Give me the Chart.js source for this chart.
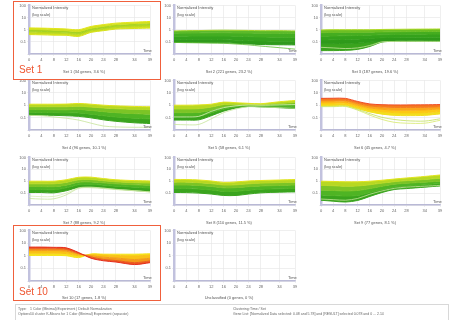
<!DOCTYPE html>
<html>
<head>
<meta charset="utf-8">
<script src="https://cdn.jsdelivr.net/npm/chart.js@4"></script>
<style>
  body { margin: 0; width: 456px; height: 320px; background: #fff; position: relative; overflow: hidden; font-family: "Liberation Sans", Arial, sans-serif; }
  canvas { position: absolute; }
  .lbl { position: absolute; font-size: 4px; color: #555; white-space: nowrap; line-height: 4px; }
  .title { position: absolute; font-size: 4px; color: #555; white-space: nowrap; transform: translate(-50%, -50%); }
  .box { position: absolute; border: 1.5px solid #f0603c; }
  .setname { position: absolute; font-size: 10px; color: #ee5530; }
  .footer { position: absolute; left: 15px; top: 304px; width: 432px; height: 15px; border: 1px solid #d8d8d8; }
  .ft { position: absolute; font-size: 3.5px; color: #666; white-space: nowrap; }
</style>
</head>
<body>
<script>
// =============================================
//              DATA (log10 of normalized intensity)
// =============================================

// time points on the x axis and their labels
const timePoints = [0, 4, 8, 12, 16, 20, 24, 28, 34, 39];
const timeLabels = ['0', '4', '8', '12', '16', '20', '24', '28', '34', '39'];
const yTickValues = [-2, -1, 0, 1, 2];
const yTickLabels = ['', '0.1', '1', '10', '100'];

// each set: profiles ordered top to bottom of the band
const set1Values = [
    [0.15, 0.13, 0.10, 0.06, 0.00, 0.27, 0.42, 0.54, 0.62, 0.68],
    [0.02, 0.00, -0.04, -0.08, -0.15, 0.12, 0.28, 0.42, 0.50, 0.55],
    [-0.12, -0.14, -0.18, -0.20, -0.30, 0.00, 0.15, 0.30, 0.38, 0.42],
    [-0.26, -0.28, -0.30, -0.33, -0.42, -0.10, 0.03, 0.17, 0.25, 0.28],
    [-0.40, -0.42, -0.45, -0.46, -0.55, -0.22, -0.08, 0.05, 0.10, 0.13]
];
const set2Values = [
    [-0.10, -0.08, -0.07, -0.05, -0.04, -0.05, -0.06, -0.08, -0.08, -0.10],
    [-0.30, -0.28, -0.27, -0.26, -0.25, -0.27, -0.28, -0.30, -0.31, -0.32],
    [-0.55, -0.53, -0.52, -0.52, -0.52, -0.54, -0.57, -0.60, -0.62, -0.63],
    [-0.80, -0.80, -0.80, -0.80, -0.82, -0.86, -0.90, -0.93, -0.95, -0.96],
    [-1.05, -1.06, -1.06, -1.07, -1.08, -1.12, -1.17, -1.22, -1.24, -1.25]
];
const set3Values = [
    [-0.02, 0.00, 0.00, 0.00, 0.00, 0.02, 0.03, 0.04, 0.05, 0.06],
    [-0.25, -0.23, -0.22, -0.22, -0.20, -0.18, -0.17, -0.16, -0.15, -0.14],
    [-0.55, -0.52, -0.50, -0.48, -0.45, -0.42, -0.40, -0.38, -0.37, -0.36],
    [-0.85, -0.83, -0.80, -0.78, -0.72, -0.66, -0.63, -0.62, -0.62, -0.62],
    [-1.15, -1.15, -1.12, -1.10, -1.02, -0.93, -0.92, -0.92, -0.92, -0.93],
    [-1.72, -1.72, -1.70, -1.62, -1.38, -1.02, -0.96, -0.95, -0.95, -0.96]
];
const set4Values = [
    [0.08, 0.08, 0.08, 0.09, 0.14, 0.08, 0.00, -0.05, -0.10, -0.13],
    [-0.12, -0.12, -0.12, -0.12, -0.08, -0.15, -0.22, -0.28, -0.33, -0.36],
    [-0.35, -0.35, -0.36, -0.37, -0.34, -0.42, -0.52, -0.60, -0.68, -0.72],
    [-0.58, -0.58, -0.60, -0.62, -0.62, -0.72, -0.85, -0.95, -1.05, -1.10],
    [-0.80, -0.80, -0.82, -0.85, -0.90, -1.02, -1.18, -1.30, -1.42, -1.48]
];
const set5Values = [
    [0.00, 0.00, 0.02, 0.08, 0.25, 0.20, 0.15, 0.12, 0.28, 0.38],
    [-0.30, -0.30, -0.28, -0.15, 0.05, 0.08, 0.07, 0.05, 0.15, 0.22],
    [-0.60, -0.60, -0.58, -0.40, -0.15, -0.05, 0.00, -0.02, 0.05, 0.08],
    [-0.90, -0.90, -0.88, -0.62, -0.32, -0.14, -0.05, -0.08, -0.08, -0.10],
    [-1.20, -1.20, -1.18, -0.85, -0.48, -0.22, -0.10, -0.14, -0.20, -0.27]
];
const set6Values = [
    [0.55, 0.56, 0.55, 0.30, 0.10, 0.04, 0.02, 0.02, 0.03, 0.05],
    [0.40, 0.41, 0.40, 0.15, -0.06, -0.14, -0.18, -0.18, -0.17, -0.12],
    [0.25, 0.26, 0.25, 0.00, -0.22, -0.33, -0.40, -0.40, -0.38, -0.30],
    [0.10, 0.10, 0.09, -0.15, -0.38, -0.52, -0.60, -0.62, -0.60, -0.50],
    [-0.02, -0.02, -0.02, -0.28, -0.54, -0.72, -0.82, -0.84, -0.82, -0.70]
];
const set7Values = [
    [0.00, 0.00, 0.00, 0.12, 0.33, 0.34, 0.22, 0.12, 0.05, 0.02],
    [-0.22, -0.22, -0.22, -0.10, 0.12, 0.14, 0.04, -0.05, -0.12, -0.15],
    [-0.45, -0.45, -0.46, -0.33, -0.08, -0.06, -0.14, -0.22, -0.30, -0.35],
    [-0.70, -0.70, -0.72, -0.56, -0.30, -0.26, -0.33, -0.42, -0.50, -0.58],
    [-0.95, -0.95, -0.98, -0.80, -0.52, -0.48, -0.55, -0.65, -0.78, -0.88]
];
const set8Values = [
    [0.15, 0.14, 0.10, 0.02, -0.10, -0.06, 0.02, 0.06, 0.10, 0.14],
    [-0.08, -0.08, -0.12, -0.20, -0.32, -0.30, -0.22, -0.16, -0.12, -0.08],
    [-0.32, -0.32, -0.36, -0.44, -0.56, -0.54, -0.46, -0.40, -0.36, -0.32],
    [-0.62, -0.62, -0.66, -0.74, -0.86, -0.85, -0.76, -0.68, -0.64, -0.60],
    [-0.95, -0.96, -1.00, -1.08, -1.20, -1.20, -1.08, -0.98, -0.92, -0.90]
];
const set9Values = [
    [0.00, -0.02, -0.05, -0.05, 0.00, 0.08, 0.18, 0.27, 0.40, 0.52],
    [-0.35, -0.38, -0.42, -0.40, -0.30, -0.16, -0.04, 0.05, 0.15, 0.25],
    [-0.75, -0.78, -0.82, -0.78, -0.62, -0.42, -0.25, -0.17, -0.08, 0.00],
    [-1.15, -1.20, -1.25, -1.20, -0.95, -0.70, -0.48, -0.40, -0.30, -0.20],
    [-1.60, -1.68, -1.75, -1.62, -1.28, -0.95, -0.70, -0.62, -0.50, -0.40]
];
const set10Values = [
    [0.68, 0.68, 0.66, 0.62, 0.25, -0.20, -0.40, -0.50, -0.70, -0.55],
    [0.55, 0.55, 0.54, 0.50, 0.18, -0.10, -0.30, -0.38, -0.55, -0.42],
    [0.40, 0.40, 0.40, 0.36, 0.12, 0.00, -0.12, -0.18, -0.30, -0.20],
    [0.20, 0.20, 0.20, 0.17, 0.00, 0.08, 0.05, 0.02, -0.02, 0.05],
    [0.02, 0.02, 0.02, 0.00, -0.15, 0.14, 0.12, 0.12, 0.12, 0.15]
];

// single profiles that stray from the band
const set2Outliers = [[-1.05, -1.06, -1.08, -1.10, -1.12, -1.18, -1.25, -1.35, -1.48, -1.60]];
const set3Outliers = [[-1.45, -1.50, -1.55, -1.50, -1.30, -1.00, -0.97, -0.96, -0.96, -0.96]];
const set4Outliers = [[-0.82, -0.85, -0.95, -1.05, -1.20, -1.45, -1.68, -1.75, -1.78, -1.78]];
const set5Outliers = [
    [-1.55, -1.58, -1.55, -1.10, -0.60, -0.30, -0.12, -0.15, -0.20, -0.25],
    [-0.95, -0.95, -0.90, -0.50, -0.20, -0.05, 0.02, 0.00, 0.02, 0.05]
];
const set6Outliers = [
    [-0.12, -0.12, -0.10, -0.40, -0.80, -1.15, -1.38, -1.45, -1.45, -1.22],
    [-0.10, -0.10, -0.08, -0.35, -0.68, -0.98, -1.15, -1.25, -1.28, -1.10]
];
const set7Outliers = [
    [-1.45, -1.50, -1.48, -1.15, -0.60, -0.55, -0.62, -0.70, -0.80, -0.90],
    [-1.25, -1.30, -1.28, -1.00, -0.56, -0.50, -0.58, -0.68, -0.80, -0.90]
];
const set9Outliers = [[-1.50, -1.55, -1.60, -1.45, -1.10, -0.82, -0.60, -0.50, -0.42, -0.35]];

const panelTitles = [
    'Set 1 (34 genes, 3.6 %)', 'Set 2 (221 genes, 23.2 %)', 'Set 3 (187 genes, 19.6 %)',
    'Set 4 (96 genes, 10.1 %)', 'Set 5 (58 genes, 6.1 %)', 'Set 6 (45 genes, 4.7 %)',
    'Set 7 (88 genes, 9.2 %)', 'Set 8 (110 genes, 11.5 %)', 'Set 9 (77 genes, 8.1 %)',
    'Set 10 (17 genes, 1.8 %)', 'Unclassified (0 genes, 0 %)'
];

// =============================================
//              COLOURS
// =============================================
const greenBand = ['#9fd22c', '#5cba2a', '#43ad22', '#35a21e', '#2f9a1c'];
const yellowGreenBand = ['#e2e41c', '#b8d822', '#7cc426', '#4fb424', '#3aa41e'];
const set1Colors = ['#e3e51c', '#d2e01e', '#a6d222', '#bcd91f', '#d6e11c'];
const set3Colors = ['#b2da2a', '#6cbf24', '#45ad20', '#35a21c', '#2e9a1a', '#3aa41e'];
const set6Colors = ['#ef4b24', '#f57b20', '#faa61a', '#fcc914', '#f2de1e'];
const set10Colors = ['#e42d1f', '#ec5a1f', '#f39a1a', '#f9c217', '#f5e21c'];
const outlierColors = ['#c6e49a', '#d8eeb8'];
const set6OutlierColors = ['#d5e86a', '#c2e05a'];

// =============================================
//              LAYOUT
// =============================================
const colLeft = [29, 174, 321];
const colRight = [150, 295, 440];
const rowTop = [5, 80, 157, 230];
const rowAxis = [54, 130, 205, 281];
const rowTitle = [71, 147, 222, 297];
const Y_AXIS_W = 16, X_AXIS_H = 10, PAD_TOP = 3, PAD_RIGHT = 5;

function addText(cls, text, left, top) {
    const el = document.createElement('div');
    el.className = cls;
    el.textContent = text;
    el.style.left = left + 'px';
    el.style.top = top + 'px';
    document.body.appendChild(el);
    return el;
}

function toPoints(values) {
    return values.map((v, j) => ({ x: timePoints[j], y: v }));
}

function makePanel(index, bands, colors, outliers, outColors) {
    const col = index % 3, row = Math.floor(index / 3);
    const pl = colLeft[col], pr = colRight[col], pt = rowTop[row], ay = rowAxis[row];
    const canvas = document.createElement('canvas');
    const w = pr - pl + Y_AXIS_W + PAD_RIGHT;
    const h = ay - pt + PAD_TOP + X_AXIS_H;
    canvas.width = w;
    canvas.height = h;
    canvas.style.left = (pl - Y_AXIS_W) + 'px';
    canvas.style.top = (pt - PAD_TOP) + 'px';
    document.body.appendChild(canvas);

    const datasets = [];
    bands.forEach((vals, i) => {
        datasets.push({
            data: toPoints(vals),
            borderColor: colors[i],
            backgroundColor: colors[i],
            borderWidth: 1,
            pointRadius: 0,
            tension: 0.3,
            fill: i === 0 ? false : '-1'
        });
    });
    (outliers || []).forEach((vals, i) => {
        datasets.push({
            data: toPoints(vals),
            borderColor: outColors[i % outColors.length],
            borderWidth: 0.8,
            pointRadius: 0,
            tension: 0.3,
            fill: false,
            order: -1
        });
    });

    new Chart(canvas, {
        type: 'line',
        data: { datasets },
        options: {
            responsive: false,
            animation: false,
            events: [],
            layout: { padding: { top: PAD_TOP, right: PAD_RIGHT, left: 0, bottom: 0 } },
            plugins: { legend: { display: false }, tooltip: { enabled: false } },
            scales: {
                x: {
                    type: 'linear',
                    min: timePoints[0],
                    max: timePoints[timePoints.length - 1],
                    afterBuildTicks: s => { s.ticks = timePoints.map(v => ({ value: v })); },
                    afterFit: s => { s.height = X_AXIS_H; },
                    ticks: {
                        autoSkip: false, maxRotation: 0, padding: 1,
                        font: { size: 4 }, color: '#666',
                        callback: (v, i) => timeLabels[i]
                    },
                    grid: { color: '#e4e4e4', lineWidth: 0.6, tickLength: 2 },
                    border: { color: '#b9b9d6', width: 1.5 }
                },
                y: {
                    type: 'linear',
                    min: -2,
                    max: 2,
                    afterBuildTicks: s => { s.ticks = yTickValues.map(v => ({ value: v })); },
                    afterFit: s => { s.width = Y_AXIS_W; },
                    ticks: {
                        padding: 1, font: { size: 4 }, color: '#666',
                        callback: (v) => yTickLabels[yTickValues.indexOf(v)]
                    },
                    grid: { color: '#e4e4e4', lineWidth: 0.6, tickLength: 2 },
                    border: { color: '#c2c2de', width: 2.5 }
                }
            }
        }
    });

    addText('lbl', 'Normalized Intensity', pl + 3, pt + 1);
    addText('lbl', '(log scale)', pl + 3, pt + 8);
    addText('lbl', 'Time', pr - 7, ay - 5);
    addText('title', panelTitles[index], pl - Y_AXIS_W + w / 2, rowTitle[row]);
}

makePanel(0, set1Values, set1Colors, [], outlierColors);
makePanel(1, set2Values, greenBand, set2Outliers, ['#62bd36']);
makePanel(2, set3Values, set3Colors, set3Outliers, outlierColors);
makePanel(3, set4Values, yellowGreenBand, set4Outliers, outlierColors);
makePanel(4, set5Values, yellowGreenBand, set5Outliers, outlierColors);
makePanel(5, set6Values, set6Colors, set6Outliers, set6OutlierColors);
makePanel(6, set7Values, yellowGreenBand, set7Outliers, outlierColors);
makePanel(7, set8Values, yellowGreenBand, [], outlierColors);
makePanel(8, set9Values, yellowGreenBand, set9Outliers, outlierColors);
makePanel(9, set10Values, set10Colors, [], outlierColors);
makePanel(10, [], [], [], outlierColors);

// highlighted sets
function addBox(left, top, width, height, name, nameTop) {
    const b = document.createElement('div');
    b.className = 'box';
    b.style.left = left + 'px';
    b.style.top = top + 'px';
    b.style.width = width + 'px';
    b.style.height = height + 'px';
    document.body.appendChild(b);
    addText('setname', name, left + 6, nameTop);
}
addBox(13, 1, 146, 77, 'Set 1', 64);
addBox(13, 225, 146, 74, 'Set 10', 286);

// footer
const footer = document.createElement('div');
footer.className = 'footer';
document.body.appendChild(footer);
addText('ft', 'Type:', 18, 307);
addText('ft', '1 Color (Minimal) Experiment | Default Normalization', 30, 307);
addText('ft', 'Options:', 18, 312);
addText('ft', '10 cluster K-Means for 1 Color (Minimal) Experiment (separate)', 30, 312);
addText('ft', 'Clustering:', 233, 307);
addText('ft', 'Time / Set', 250, 307);
addText('ft', 'Gene List:', 233, 312);
addText('ft', '[Normalized Data selected: 0.08 and 5.78] and [RESULT] selected 0.078 and 0 ... 2.14', 250, 312);
</script>
</body>
</html>
